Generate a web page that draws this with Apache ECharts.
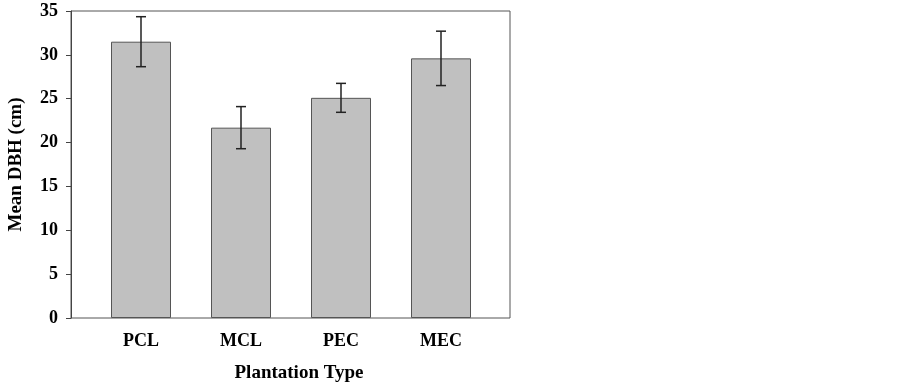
<!DOCTYPE html>
<html>
<head>
<meta charset="utf-8">
<script src="https://cdn.jsdelivr.net/npm/echarts@6/dist/echarts.min.js"></script>
<style>
  html, body { margin: 0; padding: 0; background: #fff; }
  #chart { width: 902px; height: 383px; }
</style>
</head>
<body>
<div id="chart"></div>
<script>
// plantation types and mean DBH with error (±)
const categories = ['PCL', 'MCL', 'PEC', 'MEC'];
const meanDBH = [31.5, 21.7, 25.1, 29.6];
const errDBH = [2.85, 2.4, 1.65, 3.1];
const yTicks = [0, 5, 10, 15, 20, 25, 30, 35];

const font = '"Liberation Serif", "Times New Roman", serif';

// error bar rows: [categoryIndex, low, high]
const errData = categories.map((c, i) => [i, meanDBH[i] - errDBH[i], meanDBH[i] + errDBH[i]]);

let chart = echarts.init(document.getElementById('chart'));

let option = {
    backgroundColor: '#fff',
    animation: false,
    grid: [
        // frame + y axis
        { left: 71, right: 392, top: 11, bottom: 65, show: true, borderColor: '#555', borderWidth: 1, outerBoundsMode: 'none' },
        // bars sit in a narrower band so the first/last bar keep their padding
        { left: 91, right: 411, top: 11, bottom: 65, outerBoundsMode: 'none' }
    ],
    xAxis: [
        { gridIndex: 0, type: 'value', min: 0, max: 1, show: false },
        {
            gridIndex: 1,
            type: 'category',
            data: categories,
            axisLine: { show: false },
            axisTick: { show: false },
            axisLabel: {
                margin: 14,
                color: '#000',
                fontFamily: font,
                fontWeight: 'bold',
                fontSize: 18
            },
            name: 'Plantation Type',
            nameLocation: 'middle',
            nameGap: 46,
            nameTextStyle: {
                color: '#000',
                fontFamily: font,
                fontWeight: 'bold',
                fontSize: 19,
                padding: [0, 0, 0, 16]
            }
        }
    ],
    yAxis: [
        {
            gridIndex: 0,
            type: 'value',
            min: yTicks[0],
            max: yTicks[yTicks.length - 1],
            interval: 5,
            splitLine: { show: false },
            axisLine: { show: true, lineStyle: { color: '#444', width: 1 } },
            axisTick: { show: true, length: 5, lineStyle: { color: '#444' } },
            axisLabel: {
                margin: 13,
                color: '#000',
                fontFamily: font,
                fontWeight: 'bold',
                fontSize: 18
            },
            name: 'Mean DBH (cm)',
            nameLocation: 'middle',
            nameGap: 45,
            nameTextStyle: {
                color: '#000',
                fontFamily: font,
                fontWeight: 'bold',
                fontSize: 19
            }
        },
        {
            gridIndex: 1,
            type: 'value',
            min: yTicks[0],
            max: yTicks[yTicks.length - 1],
            show: false
        }
    ],
    series: [
        {
            type: 'bar',
            xAxisIndex: 1,
            yAxisIndex: 1,
            data: meanDBH,
            barWidth: 60,
            itemStyle: { color: '#c0c0c0', borderColor: '#555', borderWidth: 1 }
        },
        {
            type: 'custom',
            xAxisIndex: 1,
            yAxisIndex: 1,
            data: errData,
            z: 5,
            renderItem: (params, api) => {
                const lo = api.coord([api.value(0), api.value(1)]);
                const hi = api.coord([api.value(0), api.value(2)]);
                const half = 5;
                const style = { stroke: '#222', lineWidth: 1.5 };
                return {
                    type: 'group',
                    children: [
                        { type: 'line', shape: { x1: hi[0], y1: hi[1], x2: lo[0], y2: lo[1] }, style: style },
                        { type: 'line', shape: { x1: hi[0] - half, y1: hi[1], x2: hi[0] + half, y2: hi[1] }, style: style },
                        { type: 'line', shape: { x1: lo[0] - half, y1: lo[1], x2: lo[0] + half, y2: lo[1] }, style: style }
                    ]
                };
            }
        }
    ]
};

chart.setOption(option);
</script>
</body>
</html>
